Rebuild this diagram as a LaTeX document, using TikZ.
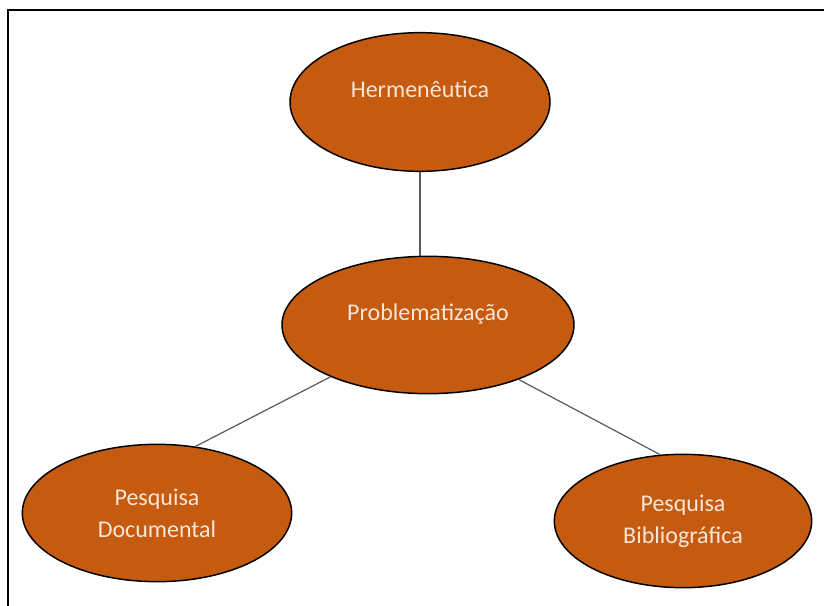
\documentclass[tikz,border=0pt]{standalone}
\usepackage{fontspec}
\setmainfont{Carlito}
\usetikzlibrary{shapes.geometric}
\definecolor{rust}{HTML}{C55A11}
\definecolor{peach}{HTML}{FBE5D6}
\definecolor{linkgray}{HTML}{595959}

\begin{document}
\begin{tikzpicture}[x=0.75pt,y=-0.75pt,
  bubble/.style={ellipse,draw=black,line width=1.1pt,fill=rust,text=peach,
    font=\fontsize{18}{24}\selectfont,align=center,inner sep=0pt},
  link/.style={draw=linkgray,line width=0.9pt}]

\useasboundingbox (0,0) rectangle (824,606);
\draw[line width=1.6pt] (8,606) -- (8,10) -- (824,10);

\node[bubble,minimum width=195pt,minimum height=104pt,text depth=19pt] (herm) at (420,102) {Hermenêutica};
\node[bubble,minimum width=219pt,minimum height=103pt,text depth=19pt] (prob) at (428,325) {Problematização};
\node[bubble,minimum width=202pt,minimum height=103pt] (doc) at (157,513) {Pesquisa\\Documental};
\node[bubble,minimum width=193pt,minimum height=100pt] (bib) at (683,521) {Pesquisa\\Bibliográfica};

\draw[link] (herm.south) -- (herm.south |- prob.north);
\draw[link] (prob.208) -- (doc.60);
\draw[link] (prob.-31) -- (bib.109);
\end{tikzpicture}
\end{document}
